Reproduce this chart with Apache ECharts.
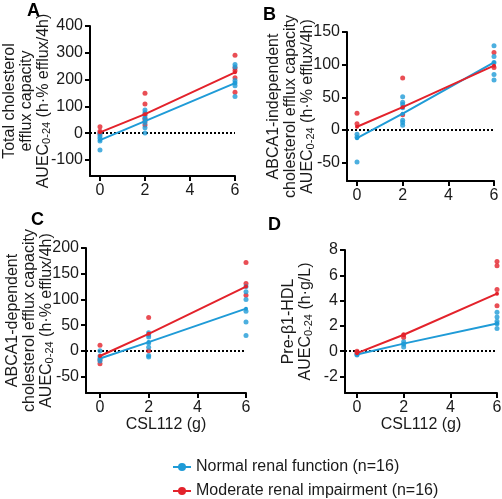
<!DOCTYPE html>
<html><head><meta charset="utf-8">
<script src="https://cdn.jsdelivr.net/npm/echarts@6/dist/echarts.min.js"></script>
<style>html,body{margin:0;padding:0;background:#fff}#c{width:502px;height:499px}</style>
</head><body><div id="c"></div>
<script>
const doses = [0, 2, 6];
const xTicks = [0, 2, 4, 6];
const seriesNames = ['Normal renal function (n=16)', 'Moderate renal impairment (n=16)'];

// Panel A: Total cholesterol efflux capacity
const aTicks = [-100, 0, 100, 200, 300, 400];
const aBlue = [[0, -11, -19, -29, -63], [86, 76, 65, 55, 39, 20, 1], [256, 247, 197, 187, 177, 137]];
const aRed = [[24, 7, -2], [149, 109, 71, 55, 45, 30], [291, 243, 233, 207, 153]];
const aBlueMean = [-26, 45, 187];
const aRedMean = [3, 71, 227];

// Panel B: ABCA1-independent
const bTicks = [-50, 0, 50, 100, 150];
const bBlue = [[-6.5, -11, -49], [51, 42.5, 39, 34, 15, 11.5, 7.5], [129, 112.5, 103.5, 85, 76.5]];
const bRed = [[25.5, 9.5], [79.5, 23.5], [118.5, 95.5]];
const bBlueMean = [-12.5, 25, 103.5];
const bRedMean = [5, 35, 98.5];

// Panel C: ABCA1-dependent
const cTicks = [-50, 0, 50, 100, 150, 200];
const cBlue = [[0, -10, -15, -20], [35, 31, 27, 15, 7, -9, -12], [125, 115, 100, 77, 56, 30]];
const cRed = [[11, -25, -18], [65, 0], [172, 131, 108]];
const cBlueMean = [-15, 17, 82];
const cRedMean = [-10, 33, 125];

// Panel D: Pre-beta1-HDL
const dTicks = [-2, 0, 2, 4, 6, 8];
const dBlue = [[-0.24, -0.3], [0.74, 0.55, 0.34], [3.08, 2.7, 2.37, 2.18, 1.79]];
const dRed = [[0, -0.1], [1.3, 1.08], [7.1, 6.76, 4.87, 3.6]];
const dBlueMean = [-0.25, 0.6, 2.2];
const dRedMean = [-0.15, 1.3, 4.55];

const BLUE = '#1f9bd7';
const RED = '#e3222b';
const FONT = '"Liberation Sans", Arial, sans-serif';
const TXT = '#1a1a1a';

const panels = [
  {letter: 'A', grid: {left: 90, top: 26, width: 145, height: 150}, xmin: -0.444, ymin: -160, ymax: 400, ticks: aTicks,
   name: 'Total cholesterol\nefflux capacity\nAUEC{s|0-24} (h·% efflux/4h)', nameGap: 38, xname: '',
   blue: aBlue, red: aRed, bm: aBlueMean, rm: aRedMean, lx: 27, ly: 2},
  {letter: 'B', grid: {left: 347, top: 32, width: 147, height: 149}, xmin: -0.438, ymin: -78, ymax: 150, ticks: bTicks,
   name: 'ABCA1-independent\ncholesterol efflux capacity\nAUEC{s|0-24} (h·% efflux/4h)', nameGap: 31, xname: '',
   blue: bBlue, red: bRed, bm: bBlueMean, rm: bRedMean, lx: 263, ly: 6},
  {letter: 'C', grid: {left: 86, top: 248, width: 160, height: 145}, xmin: -0.575, ymin: -82, ymax: 200, ticks: cTicks,
   name: 'ABCA1-dependent\ncholesterol efflux capacity\nAUEC{s|0-24} (h·% efflux/4h)', nameGap: 31, xname: 'CSL112 (g)',
   blue: cBlue, red: cRed, bm: cBlueMean, rm: cRedMean, lx: 31, ly: 211},
  {letter: 'D', grid: {left: 345, top: 250, width: 152, height: 143}, xmin: -0.514, ymin: -3.3, ymax: 8, ticks: dTicks,
   name: 'Pre-β1-HDL\nAUEC{s|0-24} (h·g/L)', nameGap: 31, xname: 'CSL112 (g)',
   blue: dBlue, red: dRed, bm: dBlueMean, rm: dRedMean, lx: 268, ly: 216}
];

function pts(groups) {
  const out = [];
  groups.forEach((g, i) => g.forEach(v => out.push([doses[i], v])));
  return out;
}
function meanPts(m) { return m.map((v, i) => [doses[i], v]); }

const axisLineStyle = {color: '#000', width: 2};
const grids = [], xAxes = [], yAxes = [], lineSeries = [], dotSeries = [], graphics = [];

panels.forEach((p, i) => {
  grids.push(Object.assign({outerBoundsMode: 'none'}, p.grid));
  xAxes.push({
    gridIndex: i, type: 'value', min: p.xmin, max: 6,
    axisLine: {show: true, onZero: false, lineStyle: axisLineStyle},
    axisTick: {show: true, customValues: xTicks, length: 5, lineStyle: {color: '#000', width: 2}},
    axisLabel: {customValues: xTicks, fontSize: 16, color: TXT, fontFamily: FONT, margin: 7},
    splitLine: {show: false},
    name: p.xname, nameLocation: 'middle', nameGap: 24, nameMoveOverlap: false,
    nameTextStyle: {fontSize: 16, color: TXT, fontFamily: FONT, verticalAlign: 'top'}
  });
  yAxes.push({
    gridIndex: i, type: 'value', min: p.ymin, max: p.ymax,
    axisLine: {show: true, onZero: false, lineStyle: axisLineStyle},
    axisTick: {show: true, customValues: p.ticks, length: 5, lineStyle: {color: '#000', width: 2}},
    axisLabel: {customValues: p.ticks, fontSize: 16, color: TXT, fontFamily: FONT, margin: 7},
    splitLine: {show: false},
    name: p.name, nameLocation: 'middle', nameGap: p.nameGap, nameRotate: 90, nameMoveOverlap: false,
    nameTextStyle: {fontSize: 16, lineHeight: 17, color: TXT, fontFamily: FONT, align: 'center',
      rich: {s: {fontSize: 11, lineHeight: 6, verticalAlign: 'bottom', color: TXT, fontFamily: FONT}}}
  });
  lineSeries.push({
    name: seriesNames[0], type: 'line', xAxisIndex: i, yAxisIndex: i, data: meanPts(p.bm),
    symbol: 'circle', symbolSize: 4, showSymbol: true, itemStyle: {color: BLUE},
    lineStyle: {color: BLUE, width: 2}, clip: false, z: 4,
    markLine: {silent: true, symbol: ['none', 'none'], label: {show: false},
      lineStyle: {type: [2, 2], color: '#000', width: 2}, data: [{yAxis: 0}], z: 1}
  });
  lineSeries.push({
    name: seriesNames[1], type: 'line', xAxisIndex: i, yAxisIndex: i, data: meanPts(p.rm),
    symbol: 'circle', symbolSize: 4, showSymbol: true, itemStyle: {color: RED},
    lineStyle: {color: RED, width: 2}, clip: false, z: 5
  });
  dotSeries.push({
    name: seriesNames[1], type: 'scatter', xAxisIndex: i, yAxisIndex: i, data: pts(p.red),
    symbolSize: 5, itemStyle: {color: RED}, clip: false, z: 2
  });
  dotSeries.push({
    name: seriesNames[0], type: 'scatter', xAxisIndex: i, yAxisIndex: i, data: pts(p.blue),
    symbolSize: 5, itemStyle: {color: BLUE}, clip: false, z: 3
  });
  graphics.push({type: 'text', left: p.lx, top: p.ly,
    style: {text: p.letter, font: 'bold 18px ' + FONT, fill: '#000'}});
});

const chart = echarts.init(document.getElementById('c'), null, {renderer: 'canvas'});
chart.setOption({
  animation: false,
  backgroundColor: '#fff',
  grid: grids, xAxis: xAxes, yAxis: yAxes, series: lineSeries.concat(dotSeries), graphic: graphics,
  legend: {
    orient: 'vertical', left: 172, top: 459, padding: 0, height: 40,
    itemWidth: 18, itemHeight: 10, itemGap: 8,
    textStyle: {fontSize: 16, lineHeight: 16, color: TXT, fontFamily: FONT},
    data: seriesNames
  }
});
</script></body></html>
